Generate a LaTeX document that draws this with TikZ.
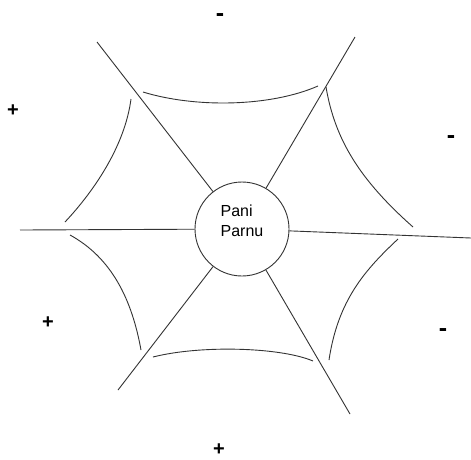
\documentclass[tikz,border=0pt]{standalone}
\usepackage{fontspec}
\setmainfont{Liberation Sans}
\begin{document}
\begin{tikzpicture}[x=1pt,y=-1pt,
  web/.style={draw=black!80, line width=0.9pt},
  hub/.style={circle, draw=black!80, line width=0.9pt, minimum size=94pt, inner sep=0pt},
  sign/.style={font=\fontsize{20}{20}\selectfont\bfseries, inner sep=0pt},
  minus/.style={font=\fontsize{25}{25}\selectfont\bfseries, inner sep=0pt}]
\useasboundingbox (0,0) rectangle (471,459);
\fill[white] (0,0) rectangle (471,459);
\node[hub] (c) at (242,229) {};
\node[align=left, inner sep=0pt, font=\fontsize{16}{19.5}\selectfont] (t) at (242,221) {Pani\\Parnu};
% spoke ends
\coordinate (o1) at (97,42);
\coordinate (o2) at (355,37);
\coordinate (o3) at (20,230);
\coordinate (o4) at (471,238);
\coordinate (o5) at (118,390);
\coordinate (o6) at (350,414);
\foreach \o in {o1,o2,o3,o4,o5,o6} \draw[web] (c) -- (\o);
% web arcs
\coordinate (a1) at (143,92);  \coordinate (b1) at (318,86);
\coordinate (a2) at (131,99);  \coordinate (b2) at (65,222);
\coordinate (a3) at (326,87);  \coordinate (b3) at (413,227);
\coordinate (a4) at (70,235);  \coordinate (b4) at (141,350);
\coordinate (a5) at (398,239); \coordinate (b5) at (329,360);
\coordinate (a6) at (153,357); \coordinate (b6) at (313,361);
\draw[web] (a1) .. controls (195,108) and (270,107) .. (b1);
\draw[web] (a2) .. controls (125,145) and (95,190) .. (b2);
\draw[web] (a3) .. controls (335,140) and (360,180) .. (b3);
\draw[web] (a4) .. controls (112,258) and (132,300) .. (b4);
\draw[web] (a5) .. controls (365,270) and (338,300) .. (b5);
\draw[web] (a6) .. controls (200,345) and (280,347) .. (b6);
% signs
\node[minus] (s1) at (220,18) {-};
\node[sign] (s2) at (13,111) {+};
\node[minus] (s3) at (451,140) {-};
\node[sign] (s4) at (48,323) {+};
\node[minus] (s5) at (443,333) {-};
\node[sign] (s6) at (219,450) {+};
\end{tikzpicture}
\end{document}
